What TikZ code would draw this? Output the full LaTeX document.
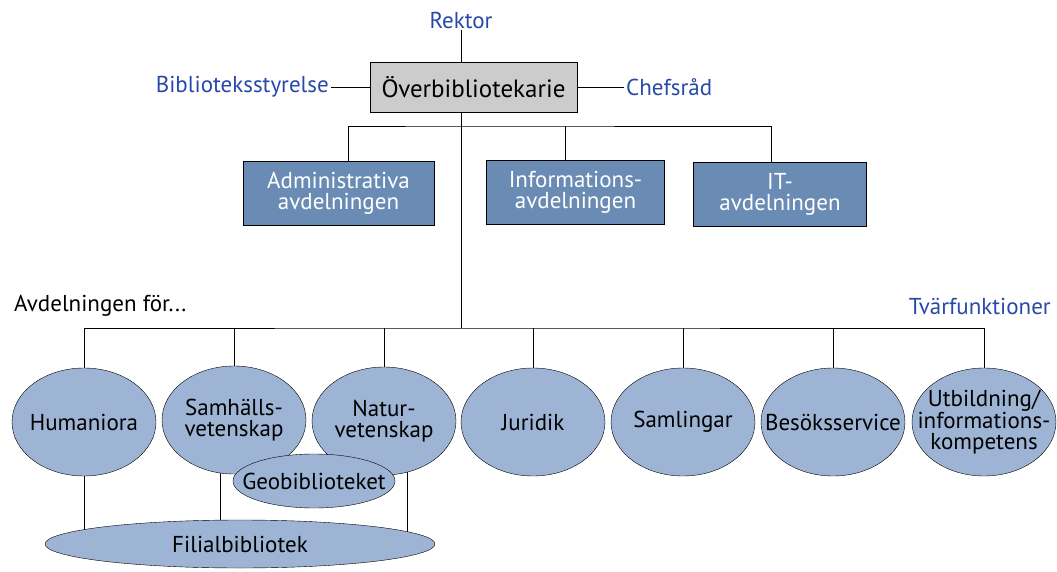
\documentclass[tikz,border=0pt]{standalone}
\usepackage{fontspec}
\setmainfont{PT Sans}
\usetikzlibrary{shapes.geometric,positioning,backgrounds}
\definecolor{titleblue}{RGB}{40,72,170}
\definecolor{boxblue}{RGB}{106,140,180}
\definecolor{ellblue}{RGB}{157,180,212}
\definecolor{headgray}{RGB}{204,204,204}
\tikzset{
    x=1pt,y=-1pt,line width=1.6pt,
    txt/.style={font=\fontsize{23}{21}\selectfont},
    chief/.style={rectangle,draw,fill=headgray,minimum width=207pt,minimum height=50pt,inner sep=2pt,font=\fontsize{25}{25}\selectfont},
    dept/.style={txt,rectangle,draw,fill=boxblue,text=white,align=center,minimum height=64pt,inner sep=2pt},
    unit/.style={txt,ellipse,draw,fill=ellblue,align=center,minimum width=144pt,minimum height=108pt,inner xsep=-30pt,inner ysep=0pt},
    board/.style={txt,text=titleblue,inner sep=2pt}
}

\begin{document}
\begin{tikzpicture}
    \useasboundingbox (0,0) rectangle (1057,572);

    \node[chief] (ob) at (473.5,87) {Överbibliotekarie};
    \node[board] (rek) at (461,20) {Rektor};
    \node[board,anchor=east] (bs) at (331,87) {Biblioteksstyrelse};
    \node[board,anchor=west] (cr) at (624,87) {Chefsråd};

    \node[dept,minimum width=191pt] (adm) at (338.5,193.5) {Administrativa\\avdelningen};
    \node[dept,minimum width=178pt] (inf) at (575.5,192) {Informations-\\avdelningen};
    \node[dept,minimum width=173pt] (it) at (780,194) {IT-\\avdelningen};

    \node[txt,anchor=west,inner sep=0pt] (avd) at (14,306) {Avdelningen för...};
    \node[board,anchor=east,inner sep=0pt] (tvf) at (1051,306) {Tvärfunktioner};

    \node[unit] (hum) at (84,422) {Humaniora};
    \node[unit] (sam) at (234,420) {Samhälls-\\vetenskap};
    \node[unit] (nat) at (384,421) {Natur-\\vetenskap};
    \node[unit] (jur) at (533,422) {Juridik};
    \node[unit] (saml) at (683,422) {Samlingar};
    \node[unit] (bes) at (833,422) {Besöksservice};
    \node[unit] (utb) at (984,422) {Utbildning/\\informations-\\kompetens};

    \node[unit,minimum width=162pt,minimum height=54pt] (geo) at (314,481) {Geobiblioteket};
    \node[unit,minimum width=390pt,minimum height=48pt] (fil) at (240,544) {Filialbibliotek};

    \coordinate (mbus) at (461,126);
    \coordinate (bus) at (461,328);

    \begin{scope}[on background layer]
        \draw (rek) -- (rek |- bus);
        \draw (bs) -- (ob.west);
        \draw (ob.east) -- (ob.east -| cr.west);
        \draw ([xshift=10pt]adm.north) |- (mbus) -| ([xshift=-9pt]it.north);
        \draw ([xshift=-10pt]inf.north) -- ([xshift=-10pt]inf.north |- mbus);
        \draw (hum.north) |- (bus) -| (utb.north);
        \foreach \n in {sam,nat,jur,saml,bes}
            \draw (\n.north) -- (\n.north |- bus);
        \draw (hum.center) -- (hum.center |- fil.center);
        \draw ([xshift=-14pt]sam.center) -- ([xshift=-14pt]sam.center |- fil.center);
        \draw ([xshift=23pt]nat.center) -- ([xshift=23pt]nat.center |- fil.center);
    \end{scope}
\end{tikzpicture}
\end{document}
